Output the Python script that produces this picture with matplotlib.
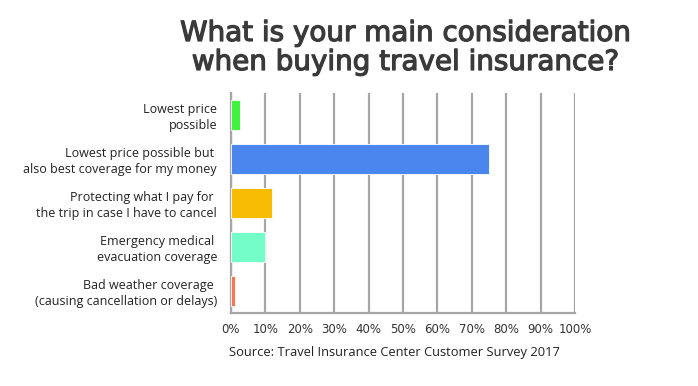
import matplotlib.pyplot as plt
import matplotlib.patheffects as pe
import numpy as np

labels = ["Lowest price\npossible",
          "Lowest price possible but \nalso best coverage for my money",
          "Protecting what I pay for \nthe trip in case I have to cancel",
          "Emergency medical \nevacuation coverage",
          "Bad weather coverage \n(causing cancellation or delays)"]
values = [2.5, 75, 12, 10, 1.2]
colors = ['#3ef43c', '#4a86ee', '#f8bc04', '#74fdc9', '#ff7452']
ticks = np.arange(0, 101, 10)

fig = plt.figure(figsize=(6.98, 3.86), dpi=100)
ax = fig.add_axes([231/698, 1-313/386, 344/698, 220/386])

y = np.arange(len(labels))
ax.barh(y, values, height=0.68, color=colors, edgecolor='white', linewidth=0.6, zorder=3)
ax.set_ylim(len(labels)-0.5, -0.5)
ax.set_xlim(0, 100)

ax.set_xticks(ticks)
ax.set_xticklabels([f"{t}%" for t in ticks], fontsize=8.5, color='#333333')
ax.set_yticks(y)
ax.set_yticklabels(labels, fontsize=9, color='#222222', multialignment='right',
                   family='Open Sans')
ax.tick_params(length=0, pad=7)
ax.tick_params(axis='y', pad=10)
ax.xaxis.grid(True, color='#a6a6a6', linewidth=1.6, zorder=0)

for s in ['top', 'right']:
    ax.spines[s].set_visible(False)
for s in ['left', 'bottom']:
    ax.spines[s].set_color('#a6a6a6')
    ax.spines[s].set_linewidth(1.6)

# title font in the original is a rounded medium weight, thicken DejaVu a bit
thick = [pe.Stroke(linewidth=0.9, foreground='#3a3a3a'), pe.Normal()]
fig.text(0.581, 1-41/386, "What is your main consideration", ha='center', va='baseline',
         fontsize=20, color='#3a3a3a', family='DejaVu Sans', path_effects=thick)
fig.text(0.581, 1-70/386, "when buying travel insurance?", ha='center', va='baseline',
         fontsize=20, color='#3a3a3a', family='DejaVu Sans', path_effects=thick)
fig.text(0.565, 0.088, "Source: Travel Insurance Center Customer Survey 2017",
         ha='center', va='center', fontsize=9.3, color='#222222', family='Open Sans')

fig.savefig("out.png", dpi=100)
